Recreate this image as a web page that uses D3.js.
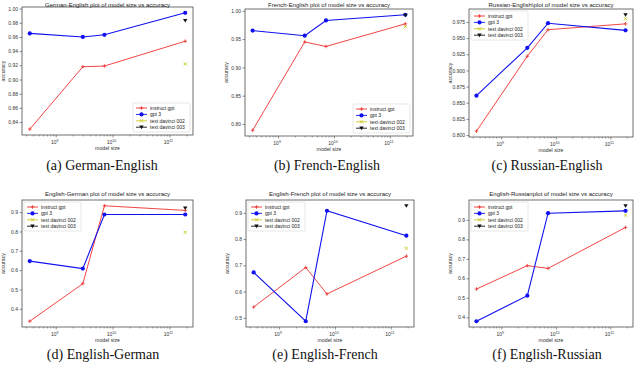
<!DOCTYPE html>
<html>
<head>
<meta charset="utf-8">
<script src="https://cdn.jsdelivr.net/npm/d3@7"></script>
<style>
body { margin: 0; background: #fff; }
svg { display: block; }
</style>
</head>
<body>
<svg id="fig" width="640" height="368"></svg>
<script>
// one entry per subplot, in reading order
var pairs = ["German-English", "French-English", "Russian-English",
             "English-German", "English-French", "English-Russian"];
var titles = ["German-English plot of model size vs accuracy",
              "French-English plot of model size vs accuracy",
              "Russian-English\\plot of model size vs accuracy",
              "English-German plot of model size vs accuracy",
              "English-French plot of model size vs accuracy",
              "English-Russianplot of model size vs accuracy"];
var letters = ["a", "b", "c", "d", "e", "f"];

var modelSize = [3.5e8, 3e9, 7.2e9, 1.9e11];

var instructGpt = [
  [0.830, 0.918, 0.919, 0.954],
  [0.789, 0.945, 0.937, 0.977],
  [0.806, 0.922, 0.963, 0.972],
  [0.336, 0.530, 0.933, 0.909],
  [0.541, 0.692, 0.591, 0.735],
  [0.545, 0.665, 0.651, 0.861]
];
var gpt3 = [
  [0.965, 0.960, 0.963, 0.994],
  [0.965, 0.956, 0.983, 0.993],
  [0.861, 0.935, 0.973, 0.962],
  [0.647, 0.608, 0.888, 0.888],
  [0.673, 0.487, 0.908, 0.813],
  [0.380, 0.511, 0.934, 0.946]
];
// single points, at the largest model size
var davinci002 = [0.922, 0.972, 0.980, 0.796, 0.765, 0.924];
var davinci003 = [0.983, 0.992, 0.986, 0.921, 0.927, 0.972];

var yTicks = [
  [0.84, 0.86, 0.88, 0.90, 0.92, 0.94, 0.96, 0.98, 1.00],
  [0.80, 0.85, 0.90, 0.95, 1.00],
  [0.800, 0.825, 0.850, 0.875, 0.900, 0.925, 0.950, 0.975],
  [0.4, 0.5, 0.6, 0.7, 0.8, 0.9],
  [0.5, 0.6, 0.7, 0.8, 0.9],
  [0.4, 0.5, 0.6, 0.7, 0.8, 0.9]
];
var yFormat = [".2f", ".2f", ".3f", ".1f", ".1f", ".1f"];
var xTicks = [1e9, 1e10, 1e11];
var seriesNames = ["instruct gpt", "gpt 3", "text davinci 002", "text davinci 003"];

// frame boxes of the six axes
var frames = [
  {l: 22,  r: 193, t: 7,   b: 135, ty: 7,   legend: "lr", cx: 102, cy: 170},
  {l: 245, r: 413, t: 9,   b: 136, ty: 7,   legend: "lr", cx: 327, cy: 170},
  {l: 469, r: 633, t: 9,   b: 137, ty: 7,   legend: "ul", cx: 547, cy: 170},
  {l: 22,  r: 193, t: 200, b: 327, ty: 196, legend: "ul", cx: 103, cy: 359},
  {l: 246, r: 414, t: 200, b: 327, ty: 196, legend: "ul", cx: 325, cy: 359},
  {l: 469, r: 633, t: 200, b: 327, ty: 196, legend: "ul", cx: 547, cy: 359}
];

var red = "#f03030", blue = "#1010f0", yellow = "#c8c820", black = "#111";
var svg = d3.select("#fig");
var font = "'Liberation Sans', Arial, sans-serif";

function marker(g, kind, x, y) {
  if (kind == 0) {
    g.append("path").attr("d", "M" + (x - 1.8) + "," + y + "h3.6M" + x + "," + (y - 1.8) + "v3.6")
      .attr("stroke", red).attr("stroke-width", 0.8);
  } else if (kind == 1) {
    g.append("circle").attr("cx", x).attr("cy", y).attr("r", 2.1).attr("fill", blue);
  } else if (kind == 2) {
    g.append("path").attr("d", "M" + (x - 1.6) + "," + (y - 1.6) + "l3.2,3.2M" + (x - 1.6) + "," + (y + 1.6) + "l3.2,-3.2")
      .attr("stroke", yellow).attr("stroke-width", 0.9);
  } else {
    g.append("path").attr("d", "M" + (x - 2.2) + "," + (y - 1.6) + "h4.4l-2.2,3.6z").attr("fill", black);
  }
}

frames.forEach(function(f, i) {
  var g = svg.append("g");

  // matplotlib style 5% margins
  var lx = d3.extent(modelSize, function(d) { return Math.log10(d); });
  var px = (lx[1] - lx[0]) * 0.05;
  var x = d3.scaleLog()
      .domain([Math.pow(10, lx[0] - px), Math.pow(10, lx[1] + px)])
      .range([f.l, f.r]);

  var all = instructGpt[i].concat(gpt3[i], [davinci002[i], davinci003[i]]);
  var ext = d3.extent(all);
  var py = (ext[1] - ext[0]) * 0.05;
  var y = d3.scaleLinear().domain([ext[0] - py, ext[1] + py]).range([f.b, f.t]);

  // y axis
  var yAxis = g.append("g")
      .attr("transform", "translate(" + f.l + ",0)")
      .call(d3.axisLeft(y).tickValues(yTicks[i]).tickFormat(d3.format(yFormat[i])).tickSize(2.5).tickPadding(1.5));
  yAxis.select(".domain").remove();
  yAxis.selectAll("line").attr("stroke", "#444").attr("stroke-width", 0.6);
  yAxis.selectAll("text").attr("font-size", 5).attr("font-family", font).attr("fill", "#333");

  // x axis, major + minor log ticks
  var minor = [];
  for (var k = 8; k <= 11; k++) {
    for (var m = 2; m <= 9; m++) {
      var v = m * Math.pow(10, k);
      if (v > x.domain()[0] && v < x.domain()[1]) minor.push(v);
    }
  }
  var xMinor = g.append("g")
      .attr("transform", "translate(0," + f.b + ")")
      .call(d3.axisBottom(x).tickValues(minor).tickFormat("").tickSize(1.5));
  xMinor.select(".domain").remove();
  xMinor.selectAll("line").attr("stroke", "#555").attr("stroke-width", 0.5);

  var xAxis = g.append("g")
      .attr("transform", "translate(0," + f.b + ")")
      .call(d3.axisBottom(x).tickValues(xTicks).tickFormat("").tickSize(2.5));
  xAxis.select(".domain").remove();
  xAxis.selectAll("line").attr("stroke", "#444").attr("stroke-width", 0.6);
  xTicks.forEach(function(t) {
    var tx = g.append("text")
        .attr("x", x(t) - 1)
        .attr("y", f.b + 9)
        .attr("text-anchor", "middle")
        .attr("font-size", 5).attr("font-family", font).attr("fill", "#333")
        .text("10");
    tx.append("tspan").attr("dy", -2.2).attr("font-size", 3.6).text(Math.round(Math.log10(t)));
  });

  // frame
  g.append("rect")
      .attr("x", f.l).attr("y", f.t)
      .attr("width", f.r - f.l).attr("height", f.b - f.t)
      .attr("fill", "none").attr("stroke", "#333").attr("stroke-width", 0.7);

  // axis labels and title
  g.append("text")
      .attr("x", (f.l + f.r) / 2).attr("y", f.b + 15)
      .attr("text-anchor", "middle")
      .attr("font-size", 5.2).attr("font-family", font).attr("fill", "#333")
      .text("model size");
  g.append("text")
      .attr("transform", "translate(" + (f.l - 17) + "," + ((f.t + f.b) / 2) + ") rotate(-90)")
      .attr("text-anchor", "middle")
      .attr("font-size", 5.2).attr("font-family", font).attr("fill", "#333")
      .text("accuracy");
  g.append("text")
      .attr("x", (f.l + f.r) / 2).attr("y", f.ty)
      .attr("text-anchor", "middle")
      .attr("font-size", 6).attr("font-family", font).attr("fill", "#222")
      .text(titles[i]);

  // lines
  var line = d3.line()
      .x(function(d, j) { return x(modelSize[j]); })
      .y(function(d) { return y(d); });

  g.append("path").datum(instructGpt[i])
      .attr("d", line).attr("fill", "none").attr("stroke", red).attr("stroke-width", 0.9);
  g.append("path").datum(gpt3[i])
      .attr("d", line).attr("fill", "none").attr("stroke", blue).attr("stroke-width", 1.1);

  instructGpt[i].forEach(function(d, j) { marker(g, 0, x(modelSize[j]), y(d)); });
  gpt3[i].forEach(function(d, j) { marker(g, 1, x(modelSize[j]), y(d)); });
  marker(g, 2, x(modelSize[3]), y(davinci002[i]));
  marker(g, 3, x(modelSize[3]), y(davinci003[i]));

  // legend
  var lw = 57, lh = 29;
  var lx0 = f.legend == "ul" ? f.l + 2 : f.r - lw - 3;
  var ly0 = f.legend == "ul" ? f.t + 2 : f.b - lh - 3;
  var leg = g.append("g").attr("transform", "translate(" + lx0 + "," + ly0 + ")");
  leg.append("rect").attr("width", lw).attr("height", lh).attr("rx", 1)
      .attr("fill", "#fff").attr("fill-opacity", 0.85)
      .attr("stroke", "#ccc").attr("stroke-width", 0.5);
  var colors = [red, blue, yellow, black];
  seriesNames.forEach(function(name, j) {
    var ry = 5 + j * 6.4;
    leg.append("line").attr("x1", 3).attr("x2", 14).attr("y1", ry).attr("y2", ry)
        .attr("stroke", colors[j]).attr("stroke-width", 0.9);
    marker(leg, j, 8.5, ry);
    leg.append("text").attr("x", 17).attr("y", ry + 1.8)
        .attr("font-size", 5).attr("font-family", font).attr("fill", "#222")
        .text(name);
  });

  // caption
  svg.append("text")
      .attr("x", f.cx).attr("y", f.cy)
      .attr("text-anchor", "middle")
      .attr("font-size", 14).attr("font-family", "'Liberation Serif', 'Times New Roman', serif")
      .attr("fill", "#111")
      .text("(" + letters[i] + ") " + pairs[i]);
});
</script>
</body>
</html>
